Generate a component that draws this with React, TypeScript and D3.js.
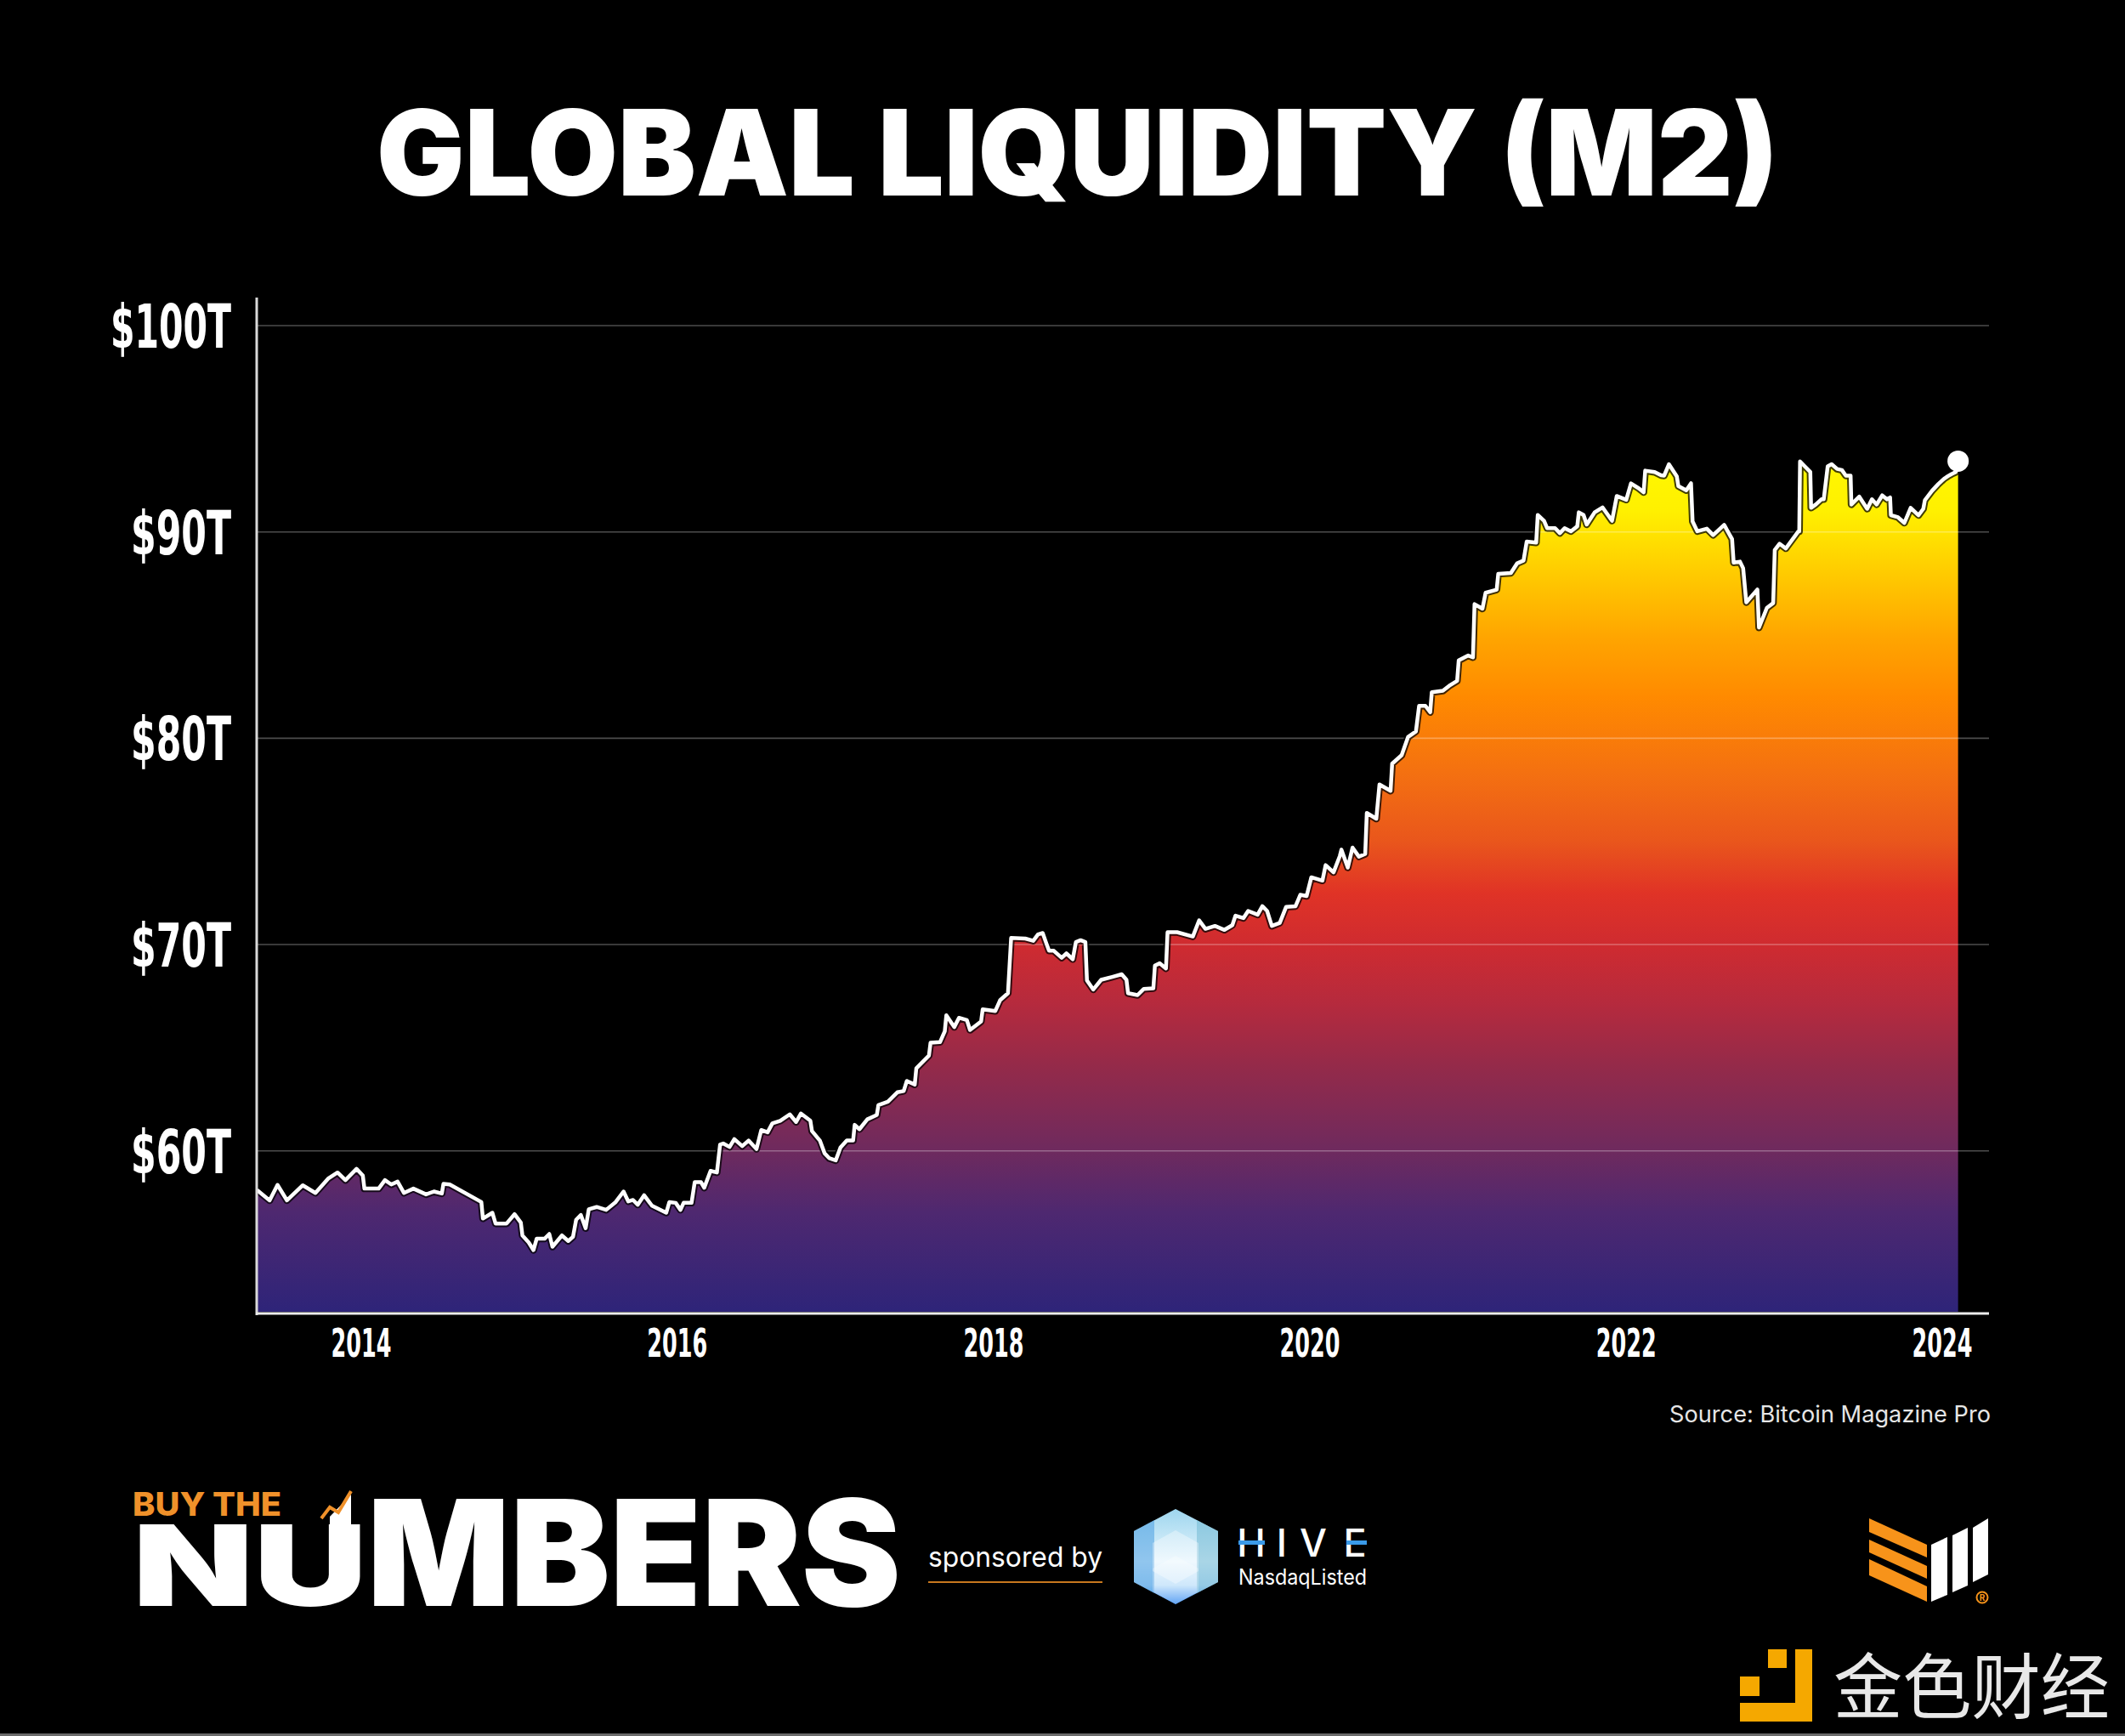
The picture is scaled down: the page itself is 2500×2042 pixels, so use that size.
import { useMemo } from "react";
import * as d3 from "d3";

// decimal year of each reading
const years = [
  2013.34, 2013.42, 2013.47, 2013.53, 2013.63, 2013.71, 2013.79, 2013.85, 2013.9, 2013.97,
  2014.01, 2014.02, 2014.11, 2014.15, 2014.19, 2014.23, 2014.27, 2014.33, 2014.41, 2014.46,
  2014.51, 2014.52, 2014.56, 2014.76, 2014.77, 2014.83, 2014.85, 2014.92, 2014.97, 2015.01,
  2015.02, 2015.06, 2015.09, 2015.11, 2015.16, 2015.19, 2015.21, 2015.27, 2015.31, 2015.34,
  2015.36, 2015.39, 2015.42, 2015.44, 2015.49, 2015.55, 2015.61, 2015.66, 2015.69, 2015.72,
  2015.75, 2015.79, 2015.84, 2015.93, 2015.95, 2015.99, 2016.02, 2016.04, 2016.09, 2016.11,
  2016.15, 2016.17, 2016.21, 2016.25, 2016.27, 2016.29, 2016.33, 2016.36, 2016.41, 2016.45,
  2016.5, 2016.53, 2016.57, 2016.6, 2016.65, 2016.71, 2016.75, 2016.78, 2016.84, 2016.85,
  2016.9, 2016.93, 2016.96, 2017.0, 2017.03, 2017.07, 2017.11, 2017.12, 2017.15, 2017.2,
  2017.26, 2017.27, 2017.33, 2017.39, 2017.43, 2017.45, 2017.5, 2017.51, 2017.59, 2017.6,
  2017.66, 2017.69, 2017.7, 2017.75, 2017.78, 2017.83, 2017.85, 2017.92, 2017.93, 2018.01,
  2018.04, 2018.09, 2018.11, 2018.2, 2018.25, 2018.28, 2018.31, 2018.33, 2018.35, 2018.38,
  2018.43, 2018.46, 2018.5, 2018.52, 2018.55, 2018.58, 2018.59, 2018.63, 2018.68, 2018.75,
  2018.81, 2018.84, 2018.85, 2018.91, 2018.95, 2019.01, 2019.02, 2019.05, 2019.09, 2019.1,
  2019.16, 2019.26, 2019.29, 2019.3, 2019.34, 2019.4, 2019.46, 2019.51, 2019.53, 2019.58,
  2019.61, 2019.67, 2019.7, 2019.73, 2019.76, 2019.81, 2019.85, 2019.91, 2019.94, 2019.98,
  2020.01, 2020.08, 2020.1, 2020.15, 2020.19, 2020.2, 2020.24, 2020.27, 2020.31, 2020.35,
  2020.36, 2020.42, 2020.44, 2020.51, 2020.52, 2020.58, 2020.62, 2020.67, 2020.69, 2020.73,
  2020.76, 2020.77, 2020.84, 2020.88, 2020.93, 2020.94, 2021.0, 2021.03, 2021.04, 2021.09,
  2021.11, 2021.18, 2021.19, 2021.27, 2021.31, 2021.35, 2021.37, 2021.43, 2021.44, 2021.48,
  2021.5, 2021.55, 2021.58, 2021.61, 2021.65, 2021.69, 2021.7, 2021.73, 2021.75, 2021.8,
  2021.85, 2021.91, 2021.94, 2022.0, 2022.03, 2022.08, 2022.11, 2022.12, 2022.18, 2022.22,
  2022.24, 2022.27, 2022.32, 2022.33, 2022.38, 2022.41, 2022.42, 2022.45, 2022.51, 2022.55,
  2022.62, 2022.67, 2022.68, 2022.72, 2022.74, 2022.76, 2022.83, 2022.84, 2022.89, 2022.93,
  2022.94, 2022.97, 2023.01, 2023.09, 2023.095, 2023.1, 2023.13, 2023.165, 2023.17, 2023.2,
  2023.235, 2023.25, 2023.275, 2023.3, 2023.335, 2023.365, 2023.39, 2023.42, 2023.425, 2023.475,
  2023.525, 2023.555, 2023.585, 2023.62, 2023.65, 2023.67, 2023.675, 2023.72, 2023.76, 2023.8,
  2023.85, 2023.88, 2023.89, 2023.935, 2023.975, 2024.01, 2024.035, 2024.06, 2024.085, 2024.1,
];

// global M2, trillions of USD
const m2 = [
  58.1, 57.6, 58.35, 57.6, 58.33, 57.96, 58.65, 58.95, 58.58, 59.13,
  58.8, 58.17, 58.17, 58.58, 58.37, 58.51, 57.96, 58.17, 57.89, 58.03,
  57.93, 58.4, 58.37, 57.52, 56.72, 57.0, 56.48, 56.48, 56.93, 56.52,
  55.9, 55.56, 55.19, 55.74, 55.74, 55.97, 55.35, 55.9, 55.63, 55.83,
  56.66, 56.89, 56.25, 57.17, 57.28, 57.14, 57.52, 58.03, 57.55, 57.62,
  57.39, 57.85, 57.34, 57.0, 57.52, 57.48, 57.14, 57.48, 57.48, 58.48,
  58.48, 58.21, 59.03, 58.95, 60.3, 60.36, 60.19, 60.57, 60.23, 60.5,
  60.09, 61.01, 60.9, 61.33, 61.46, 61.77, 61.4, 61.81, 61.46, 60.96,
  60.5, 59.88, 59.64, 59.54, 60.16, 60.5, 60.5, 61.26, 61.05, 61.53,
  61.74, 62.22, 62.38, 62.84, 62.9, 63.39, 63.21, 64.0, 64.62, 65.24,
  65.27, 65.79, 66.57, 66.0, 66.45, 66.34, 65.86, 66.27, 66.86, 66.78,
  67.3, 67.64, 70.32, 70.29, 70.18, 70.49, 70.56, 70.12, 69.7, 69.7,
  69.36, 69.57, 69.29, 70.12, 70.21, 70.12, 68.26, 67.82, 68.29, 68.43,
  68.56, 68.29, 67.64, 67.55, 67.85, 67.88, 68.98, 69.09, 68.84, 70.6,
  70.6, 70.39, 70.98, 71.17, 70.76, 70.9, 70.71, 70.94, 71.4, 71.28,
  71.63, 71.45, 71.86, 71.63, 70.9, 71.05, 71.82, 71.86, 72.41, 72.35,
  73.26, 73.1, 73.85, 73.5, 74.3, 74.6, 73.73, 74.7, 74.26, 74.39,
  76.38, 76.1, 77.76, 77.45, 78.77, 79.18, 80.06, 80.33, 81.57, 81.57,
  81.26, 82.23, 82.3, 82.54, 82.78, 83.77, 84.01, 83.92, 86.5, 86.28,
  87.05, 87.2, 87.97, 88.01, 88.48, 88.61, 89.53, 89.48, 90.82, 90.54,
  90.18, 90.18, 89.94, 90.18, 90.03, 90.27, 90.95, 90.82, 90.36, 90.95,
  91.19, 90.54, 91.74, 91.56, 92.35, 92.11, 91.92, 92.97, 92.9, 92.75,
  92.73, 93.28, 92.7, 92.22, 92.02, 92.36, 90.51, 90.03, 90.16, 89.85,
  90.34, 89.65, 88.51, 88.56, 88.24, 86.59, 87.21, 85.36, 86.32, 86.55,
  89.13, 89.43, 89.2, 90.03, 90.03, 93.42, 93.18, 92.91, 91.17, 91.33,
  91.58, 91.58, 93.18, 93.28, 93.05, 93.0, 92.73, 92.73, 91.33, 91.71,
  91.12, 91.58, 91.33, 91.77, 91.58, 91.67, 90.81, 90.71, 90.44, 91.17,
  90.81, 91.12, 91.54, 91.99, 92.32, 92.57, 92.7, 92.81, 92.9, 93.43,
];

const yTicks = [60, 70, 80, 90, 100];
const yTickLabels = ["$60T", "$70T", "$80T", "$90T", "$100T"];
const xTickYears = [2014, 2016, 2018, 2020, 2022, 2024];

const W = 2500;
const H = 2042;
const LEFT = 302;
const RIGHT = 2340;
const BASE = 1545;

const toDate = (d: number) => {
  const y = Math.floor(d);
  const a = new Date(y, 0, 1).getTime();
  const b = new Date(y + 1, 0, 1).getTime();
  return new Date(a + (d - y) * (b - a));
};

const fillStops: [number, string][] = [
  [94, "#FFFA00"],
  [91, "#FFF000"],
  [88, "#FFCB00"],
  [85, "#FFA600"],
  [82, "#FF8A00"],
  [78, "#F36E12"],
  [75, "#E9561C"],
  [72.5, "#E03326"],
  [70, "#CF2B30"],
  [67, "#B42A3E"],
  [64, "#932A4A"],
  [60, "#6E2A5E"],
  [57, "#4E2870"],
  [52.2, "#2E2479"],
];

const App = () => {
  const data = useMemo(
    () => years.map((yr, i) => ({ t: toDate(yr), v: m2[i] })),
    []
  );

  const x = d3
    .scaleTime()
    .domain([new Date(2014, 0, 1), new Date(2024, 0, 1)])
    .range([425, 2285]);
  const y = d3.scaleLinear().domain([52.2, 100]).range([BASE - 2, 383]);

  const area = d3
    .area<{ t: Date; v: number }>()
    .x((d) => x(d.t))
    .y0(BASE - 2)
    .y1((d) => y(d.v));
  const line = d3
    .line<{ t: Date; v: number }>()
    .x((d) => x(d.t))
    .y((d) => y(d.v));

  const gTop = y(94);
  const gBot = y(52.2);
  const last = data[data.length - 1];

  const narrow = "'Liberation Sans Narrow', 'DejaVu Sans Condensed', 'Roboto', sans-serif";
  const heavy = "Inter, 'Noto Sans', 'DejaVu Sans', sans-serif";

  return (
    <div style={{ position: "absolute", left: 0, top: 0, width: W, height: H, background: "#000" }}>
      <svg width={W} height={H} viewBox={`0 0 ${W} ${H}`} style={{ display: "block" }}>
        <defs>
          <linearGradient id="fill" gradientUnits="userSpaceOnUse" x1={0} x2={0} y1={gTop} y2={gBot}>
            {fillStops.map(([v, c]) => (
              <stop key={v} offset={(y(v) - gTop) / (gBot - gTop)} stopColor={c} />
            ))}
          </linearGradient>
          <linearGradient id="gem" x1="0" x2="0" y1="0" y2="1">
            <stop offset="0" stopColor="#9ED6EE" />
            <stop offset="0.55" stopColor="#E6F5FD" />
            <stop offset="0.8" stopColor="#BFE0FA" />
            <stop offset="1" stopColor="#2F86F0" />
          </linearGradient>
        </defs>

        <rect width={W} height={H} fill="#000" />

        {/* title */}
        <text
          x={443}
          y={230}
          fill="#fff"
          fontFamily={heavy}
          fontWeight={900}
          fontSize={140}
          textLength={1649}
          lengthAdjust="spacingAndGlyphs"
        >
          GLOBAL LIQUIDITY (M2)
        </text>

        {/* area + gridlines + line */}
        <path d={area(data) as string} fill="url(#fill)" />
        {yTicks.map((v) => (
          <line key={v} x1={LEFT} x2={RIGHT} y1={y(v)} y2={y(v)} stroke="rgba(255,255,255,0.3)" strokeWidth={1.6} />
        ))}
        <path d={line(data) as string} fill="none" stroke="rgba(0,0,0,0.75)" strokeWidth={8.5} strokeLinejoin="round" />
        <path d={line(data) as string} fill="none" stroke="#fff" strokeWidth={4.5} strokeLinejoin="round" />
        <circle cx={x(last.t)} cy={y(last.v)} r={12.5} fill="#fff" />

        {/* axes */}
        <line x1={LEFT} x2={LEFT} y1={350} y2={BASE + 2} stroke="#d9d9d9" strokeWidth={3} />
        <line x1={LEFT - 1} x2={RIGHT} y1={BASE} y2={BASE} stroke="#ececec" strokeWidth={3} />

        {yTicks.map((v, i) => (
          <text
            key={v}
            x={272}
            y={y(v) + 26}
            textAnchor="end"
            fill="#fff"
            fontFamily={narrow}
            fontWeight={700}
            fontSize={71}
            textLength={yTickLabels[i].length === 5 ? 142 : 118}
            lengthAdjust="spacingAndGlyphs"
          >
            {yTickLabels[i]}
          </text>
        ))}
        {xTickYears.map((yr) => (
          <text
            key={yr}
            x={x(new Date(yr, 0, 1))}
            y={1596}
            textAnchor="middle"
            fill="#fff"
            fontFamily={narrow}
            fontWeight={700}
            fontSize={46}
            textLength={71}
            lengthAdjust="spacingAndGlyphs"
          >
            {yr}
          </text>
        ))}

        <text
          x={2342}
          y={1673}
          textAnchor="end"
          fill="#e6e6e6"
          fontFamily="Inter, 'Open Sans', sans-serif"
          fontSize={27}
          textLength={378}
          lengthAdjust="spacingAndGlyphs"
        >
          Source: Bitcoin Magazine Pro
        </text>

        {/* footer: BUY THE NUMBERS */}
        <text x={156} y={1783} fill="#F0912A" fontFamily={heavy} fontWeight={800} fontSize={38} textLength={175} lengthAdjust="spacingAndGlyphs">
          BUY THE
        </text>
        <text x={156} y={1889} fill="#fff" fontFamily={heavy} fontWeight={900} fontSize={132} textLength={276} lengthAdjust="spacingAndGlyphs">
          NU
        </text>
        <polygon points="388,1784 413,1758 413,1840 388,1840" fill="#fff" />
        <polyline points="378,1786 388,1773 398,1779 413,1754" fill="none" stroke="#F0912A" strokeWidth={4} />
        <text x={432} y={1889} fill="#fff" fontFamily={heavy} fontWeight={900} fontSize={173} textLength={628} lengthAdjust="spacingAndGlyphs">
          MBERS
        </text>

        <text x={1092} y={1843} fill="#fff" fontFamily={heavy} fontWeight={400} fontSize={33} textLength={205} lengthAdjust="spacingAndGlyphs">
          sponsored by
        </text>
        <line x1={1092} x2={1297} y1={1861} y2={1861} stroke="#C8781E" strokeWidth={2.2} />

        {/* HIVE mark */}
        <polygon points="1383,1775 1433,1801 1433,1861 1383,1887 1334,1861 1334,1801" fill="url(#gem)" />
        <polygon points="1334,1801 1358,1788 1358,1874 1334,1861" fill="#4A9FE2" opacity={0.55} />
        <polygon points="1433,1801 1408,1788 1408,1874 1433,1861" fill="#6BB6CF" opacity={0.5} />
        <polygon points="1383,1800 1410,1815 1410,1848 1383,1863 1356,1848 1356,1815" fill="#fff" opacity={0.35} />
        <polygon points="1383,1830 1410,1845 1410,1872 1383,1887 1356,1872 1356,1845" fill="#fff" opacity={0.25} />
        {[
          ["H", 1472],
          ["I", 1508],
          ["V", 1545],
          ["E", 1594],
        ].map(([ch, cx]) => (
          <text key={ch as string} x={cx as number} y={1831} textAnchor="middle" fill="#fff" fontFamily={heavy} fontWeight={500} fontSize={45}>
            {ch}
          </text>
        ))}
        <rect x={1457} y={1812} width={31} height={5} fill="#3A9AE8" />
        <rect x={1584} y={1812} width={24} height={5} fill="#3A9AE8" />
        <text x={1457} y={1864} fill="#fff" fontFamily={heavy} fontWeight={400} fontSize={25} textLength={151} lengthAdjust="spacingAndGlyphs">
          NasdaqListed
        </text>

        {/* Bitcoin Magazine mark */}
        <polygon points="2199,1786 2267,1817 2267,1832 2199,1802" fill="#F7931A" />
        <polygon points="2199,1811 2267,1842 2267,1857 2199,1826" fill="#F7931A" />
        <polygon points="2199,1834 2267,1866 2267,1884 2199,1853" fill="#F7931A" />
        <polygon points="2272,1817 2291,1808 2291,1876 2272,1884" fill="#fff" />
        <polygon points="2297,1806 2315,1797 2315,1865 2297,1873" fill="#fff" />
        <polygon points="2321,1797 2339,1786 2339,1852 2321,1861" fill="#fff" />
        <circle cx={2332} cy={1879} r={6.5} fill="none" stroke="#F7931A" strokeWidth={2} />
        <text x={2332} y={1883} textAnchor="middle" fill="#F7931A" fontFamily={heavy} fontWeight={700} fontSize={10}>
          R
        </text>

        {/* watermark */}
        <rect x={2080} y={1940} width={22} height={22} fill="#F5A800" />
        <rect x={2112} y={1940} width={20} height={85} fill="#F5A800" />
        <rect x={2047} y={1972} width={23} height={23} fill="#F5A800" />
        <rect x={2047} y={2003} width={85} height={22} fill="#F5A800" />
        <text
          x={2157}
          y={2015}
          fill="#e8e8e8"
          fontFamily="'Noto Sans CJK SC', sans-serif"
          fontWeight={400}
          fontSize={84}
          textLength={325}
          lengthAdjust="spacingAndGlyphs"
        >
          金色财经
        </text>
        <rect x={0} y={2039} width={W} height={3} fill="#6a6a6a" />
      </svg>
    </div>
  );
};

export default App;
